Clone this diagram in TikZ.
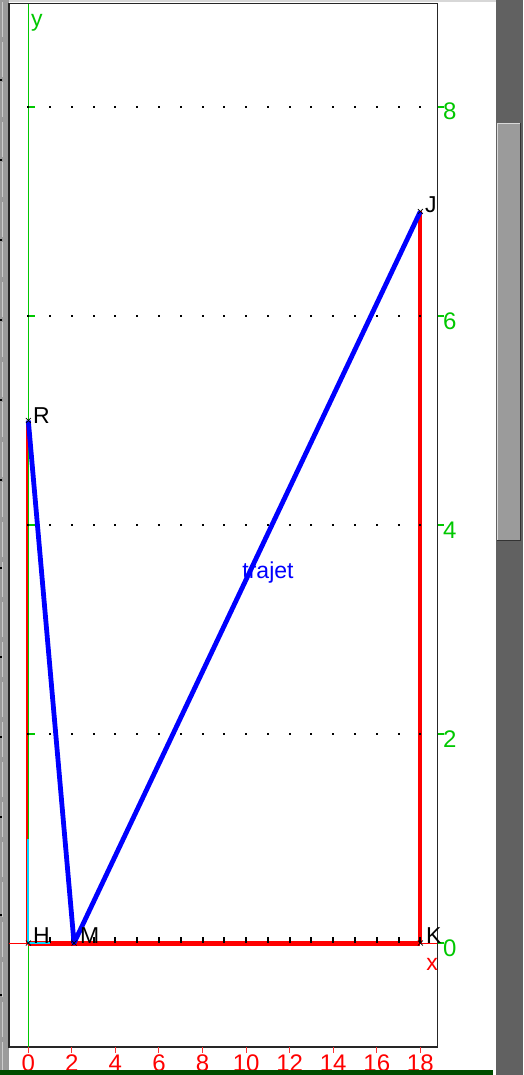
\documentclass[tikz,border=0pt]{standalone}
\usepackage{fontspec}
\setmainfont{Liberation Sans}
\definecolor{axgreen}{RGB}{0,200,0}
\definecolor{axred}{RGB}{255,0,0}
\definecolor{trblue}{RGB}{0,0,255}
\definecolor{vecCyan}{RGB}{0,215,255}
\definecolor{stripGray}{RGB}{155,155,155}
\definecolor{stripLight}{RGB}{205,205,205}
\definecolor{sideDark}{RGB}{97,97,97}
\definecolor{thumbGray}{RGB}{155,155,155}
\definecolor{topGray}{RGB}{215,215,215}
\definecolor{barGreen}{RGB}{0,77,0}
\tikzset{
  framebox/.style={draw=black!85, line width=1.4pt},
  redthick/.style={draw=axred, line width=5pt},
  redside/.style={draw=axred, line width=4.3pt},
  redthin/.style={draw=axred, line width=1.8pt},
  bluepath/.style={draw=trblue, line width=4.8pt, line join=round},
  cyanvec/.style={draw=vecCyan, line width=1.8pt},
  crossmk/.style={draw=black, line width=0.7pt},
  ptlabel/.style={inner sep=0pt, font=\fontsize{23}{25}\selectfont, text=black},
  numlabel/.style={inner sep=0pt, font=\fontsize{24}{26}\selectfont},
}
\newcommand{\ux}[1]{28.3+21.78*(#1)}
\newcommand{\vy}[1]{943-104.5*(#1)}
\begin{document}
\begin{tikzpicture}[x=1pt,y=-1pt]
\useasboundingbox (0,0) rectangle (523,1075);
\fill[white] (0,0) rectangle (523,1075);
% left window strip
\fill[stripGray] (0,0) rectangle (8.5,1070);
\foreach \s in {0,40,...,1040} \draw[stripLight, line width=1pt] (2.5,\s+2) -- (2.5,\s+37);
\foreach \s in {80,160,240,320,400,480,568,657,737,817,915,995} \fill[black] (0,\s-1) rectangle (2,\s+1);
% top strip
\fill[topGray] (8.5,0) rectangle (496,2.5);
% right dark strip and thumb
\fill[sideDark] (496,0) rectangle (523,1075);
\fill[thumbGray] (497,123) rectangle (520,541);
\draw[white!85!black, line width=1pt] (497.5,540) -- (497.5,123.5) -- (520,123.5);
\draw[black!80, line width=1.2pt] (497,540.5) -- (520.5,540.5) -- (520.5,123);
% frame
\draw[framebox] (9,3.5) rectangle (437.5,1047);
% named points
\coordinate (O) at ({\ux{0}},{\vy{0}});
\coordinate (R) at ({\ux{0}},{\vy{5}});
\coordinate (H) at ({\ux{0}},{\vy{0}});
\coordinate (M) at ({\ux{2.1}},{\vy{0}});
\coordinate (J) at ({\ux{18}},{\vy{7}});
\coordinate (K) at ({\ux{18}},{\vy{0}});
\coordinate (I1) at ({\ux{1}},{\vy{0}});
\coordinate (J1) at ({\ux{0}},{\vy{1}});
\coordinate (xl) at (8.5,943);
\coordinate (xr) at (437,943);
\coordinate (yt) at (28.5,4);
\coordinate (yb) at (28.5,1047);
\coordinate (Rs) at (27,{\vy{5}});
\coordinate (Hs) at (27,943);
% axes
\draw[axred, line width=1pt] (xl) -- (xr);
\draw[axgreen, line width=1.3pt] (yt) -- (yb);
% red segments
\draw[redthin] (Rs) -- (Hs);
\draw[redthick] (H) -- (K);
\draw[redside] (K) -- (J);
% grid dots and y ticks
\foreach \v in {2,4,6,8} {
  \foreach \u in {1,...,18} \fill[black] ({\ux{\u}-1},{\vy{\v}-1}) rectangle ++(2,2);
  \draw[axgreen, line width=1.2pt] (28.5,{\vy{\v}}) -- (35,{\vy{\v}});
  \fill[black] (27,{\vy{\v}-1}) rectangle ++(2,2);
}
\foreach \v in {0,2,4,6,8} {
  \draw[axgreen, line width=1.2pt] (437.5,{\vy{\v}}) -- (444,{\vy{\v}});
  \node[numlabel, text=axgreen, anchor=base west] (yl\v) at (443,{\vy{\v}+13}) {\v};
}
% x ticks on axis
\foreach \u in {1,...,18} \fill[black] ({\ux{\u}-1},937) rectangle ++(2,6);
% bottom ticks and labels
\foreach \u in {0,2,...,18} {
  \draw[axred!80, line width=1pt] ({\ux{\u}},1047) -- ({\ux{\u}},1053);
  \node[numlabel, text=axred, anchor=base] (xlab\u) at ({\ux{\u}},1071) {\u};
}
% path
\draw[bluepath] (R) -- (M) -- (J);
% unit vectors
\draw[cyanvec] (O) -- (I1);
\draw[cyanvec] (O) -- (J1);
% crosses
\foreach \p in {R,J,H,M,K} {
  \draw[crossmk] ([shift={(-2.5,-2.5)}]\p) -- ([shift={(2.5,2.5)}]\p);
  \draw[crossmk] ([shift={(-2.5,2.5)}]\p) -- ([shift={(2.5,-2.5)}]\p);
}
% labels
\node[ptlabel, anchor=base west] (lR) at (33,423) {R};
\node[ptlabel, anchor=base west] (lJ) at (425,213) {J};
\node[ptlabel, anchor=base west] (lH) at (33,943) {H};
\node[ptlabel, anchor=base west] (lM) at (80,943) {M};
\node[ptlabel, anchor=base west] (lK) at (426,943) {K};
\node[ptlabel, text=axgreen, anchor=base west] (ly) at (31,27) {y};
\node[ptlabel, text=axred, anchor=base] (lx) at (432,970) {x};
\node[ptlabel, text=trblue, anchor=base] (ltr) at (268,578) {trajet};
% bottom bar
\fill[barGreen] (0,1070) rectangle (493,1075);
\end{tikzpicture}
\end{document}
